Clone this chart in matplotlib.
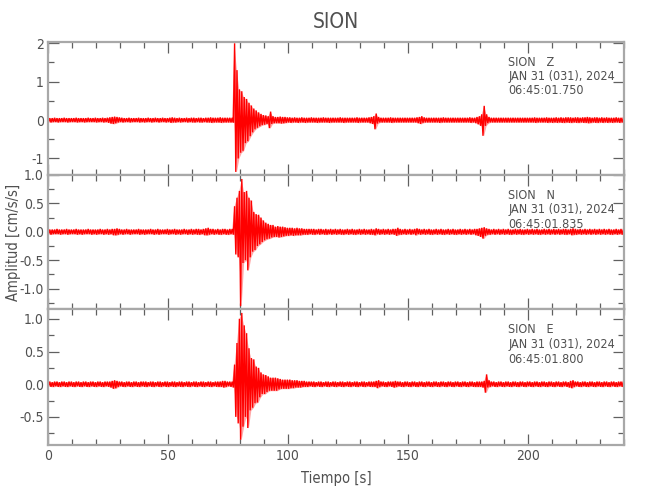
import numpy as np
import matplotlib
matplotlib.use("Agg")
import matplotlib.pyplot as plt
from matplotlib.ticker import MultipleLocator, FormatStrFormatter
from matplotlib import font_manager

# ---------------- data (per-second max / min of each trace) ----------------
seconds = list(range(240))

z_hi = [0.05, 0.05, 0.06, 0.05, 0.05, 0.05, 0.06, 0.05, 0.05, 0.05,
        0.05, 0.06, 0.05, 0.05, 0.05, 0.05, 0.06, 0.05, 0.05, 0.06,
        0.05, 0.05, 0.06, 0.05, 0.06, 0.07, 0.08, 0.09, 0.08, 0.07,
        0.06, 0.05, 0.05, 0.06, 0.05, 0.05, 0.05, 0.06, 0.05, 0.05,
        0.05, 0.06, 0.05, 0.05, 0.06, 0.05, 0.05, 0.06, 0.05, 0.05,
        0.06, 0.07, 0.06, 0.05, 0.06, 0.05, 0.05, 0.06, 0.05, 0.06,
        0.06, 0.05, 0.06, 0.06, 0.05, 0.06, 0.06, 0.07, 0.06, 0.06,
        0.06, 0.07, 0.06, 0.06, 0.06, 0.06, 0.06, 2.00, 1.30, 0.80,
        0.75, 0.60, 0.55, 0.45, 0.38, 0.30, 0.25, 0.20, 0.16, 0.13,
        0.12, 0.10, 0.22, 0.10, 0.08, 0.08, 0.09, 0.08, 0.08, 0.07,
        0.07, 0.06, 0.07, 0.06, 0.06, 0.07, 0.06, 0.06, 0.06, 0.07,
        0.06, 0.06, 0.06, 0.06, 0.07, 0.06, 0.06, 0.06, 0.06, 0.06,
        0.06, 0.07, 0.06, 0.06, 0.06, 0.06, 0.06, 0.06, 0.07, 0.06,
        0.06, 0.06, 0.06, 0.07, 0.08, 0.10, 0.17, 0.08, 0.06, 0.06,
        0.06, 0.06, 0.07, 0.06, 0.06, 0.06, 0.06, 0.06, 0.06, 0.06,
        0.06, 0.06, 0.06, 0.07, 0.08, 0.10, 0.07, 0.06, 0.06, 0.06,
        0.06, 0.06, 0.06, 0.06, 0.07, 0.06, 0.06, 0.06, 0.06, 0.06,
        0.06, 0.06, 0.06, 0.06, 0.06, 0.07, 0.06, 0.06, 0.08, 0.10,
        0.15, 0.37, 0.15, 0.08, 0.06, 0.06, 0.06, 0.06, 0.06, 0.06,
        0.06, 0.06, 0.06, 0.06, 0.06, 0.06, 0.06, 0.06, 0.06, 0.06,
        0.06, 0.06, 0.07, 0.06, 0.06, 0.06, 0.06, 0.07, 0.06, 0.06,
        0.06, 0.07, 0.06, 0.07, 0.06, 0.07, 0.07, 0.07, 0.06, 0.07,
        0.07, 0.06, 0.07, 0.07, 0.08, 0.07, 0.06, 0.07, 0.07, 0.06,
        0.07, 0.06, 0.07, 0.06, 0.06, 0.06, 0.07, 0.06, 0.06, 0.06]

z_lo = [-0.05, -0.06, -0.05, -0.05, -0.06, -0.05, -0.05, -0.05, -0.06, -0.05,
        -0.05, -0.05, -0.06, -0.05, -0.05, -0.06, -0.05, -0.05, -0.05, -0.05,
        -0.06, -0.05, -0.05, -0.06, -0.05, -0.07, -0.09, -0.10, -0.08, -0.06,
        -0.05, -0.06, -0.05, -0.05, -0.06, -0.05, -0.05, -0.05, -0.06, -0.05,
        -0.06, -0.05, -0.05, -0.06, -0.05, -0.05, -0.06, -0.05, -0.05, -0.06,
        -0.05, -0.07, -0.06, -0.06, -0.05, -0.06, -0.05, -0.05, -0.06, -0.05,
        -0.06, -0.06, -0.05, -0.06, -0.06, -0.05, -0.06, -0.06, -0.07, -0.06,
        -0.06, -0.06, -0.07, -0.06, -0.06, -0.06, -0.06, -0.06, -1.35, -1.00,
        -0.85, -0.80, -0.60, -0.55, -0.42, -0.32, -0.24, -0.20, -0.16, -0.13,
        -0.12, -0.10, -0.21, -0.10, -0.08, -0.08, -0.08, -0.09, -0.08, -0.07,
        -0.06, -0.07, -0.06, -0.06, -0.07, -0.06, -0.06, -0.07, -0.06, -0.06,
        -0.06, -0.06, -0.07, -0.06, -0.06, -0.06, -0.06, -0.07, -0.06, -0.06,
        -0.06, -0.06, -0.06, -0.07, -0.06, -0.06, -0.06, -0.06, -0.06, -0.07,
        -0.06, -0.06, -0.06, -0.06, -0.08, -0.10, -0.24, -0.09, -0.06, -0.06,
        -0.06, -0.06, -0.06, -0.07, -0.06, -0.06, -0.06, -0.06, -0.06, -0.06,
        -0.06, -0.06, -0.06, -0.06, -0.08, -0.10, -0.07, -0.06, -0.06, -0.06,
        -0.06, -0.06, -0.06, -0.07, -0.06, -0.06, -0.06, -0.06, -0.06, -0.06,
        -0.06, -0.06, -0.06, -0.06, -0.06, -0.06, -0.07, -0.06, -0.08, -0.11,
        -0.15, -0.41, -0.15, -0.08, -0.06, -0.06, -0.06, -0.06, -0.06, -0.06,
        -0.06, -0.06, -0.06, -0.06, -0.06, -0.06, -0.06, -0.06, -0.06, -0.06,
        -0.06, -0.06, -0.06, -0.07, -0.06, -0.06, -0.06, -0.06, -0.07, -0.06,
        -0.07, -0.06, -0.07, -0.06, -0.07, -0.07, -0.06, -0.07, -0.07, -0.06,
        -0.07, -0.07, -0.06, -0.07, -0.07, -0.08, -0.07, -0.06, -0.07, -0.07,
        -0.06, -0.07, -0.06, -0.07, -0.06, -0.07, -0.06, -0.06, -0.07, -0.06]

n_hi = [0.04, 0.04, 0.04, 0.05, 0.04, 0.04, 0.04, 0.05, 0.04, 0.04,
        0.04, 0.05, 0.04, 0.04, 0.04, 0.04, 0.05, 0.04, 0.04, 0.04,
        0.04, 0.05, 0.04, 0.04, 0.05, 0.04, 0.05, 0.05, 0.06, 0.05,
        0.04, 0.04, 0.05, 0.04, 0.04, 0.04, 0.04, 0.05, 0.04, 0.04,
        0.04, 0.04, 0.05, 0.04, 0.04, 0.05, 0.04, 0.04, 0.04, 0.05,
        0.04, 0.04, 0.05, 0.04, 0.04, 0.04, 0.05, 0.04, 0.04, 0.05,
        0.04, 0.05, 0.05, 0.04, 0.05, 0.06, 0.07, 0.05, 0.05, 0.04,
        0.05, 0.04, 0.05, 0.05, 0.04, 0.05, 0.05, 0.45, 0.60, 0.72,
        0.93, 0.70, 0.72, 0.60, 0.55, 0.35, 0.31, 0.30, 0.25, 0.20,
        0.16, 0.14, 0.12, 0.12, 0.09, 0.10, 0.09, 0.09, 0.08, 0.07,
        0.07, 0.07, 0.06, 0.07, 0.06, 0.06, 0.05, 0.05, 0.05, 0.05,
        0.05, 0.04, 0.05, 0.05, 0.04, 0.05, 0.04, 0.05, 0.04, 0.05,
        0.04, 0.05, 0.04, 0.04, 0.05, 0.04, 0.05, 0.04, 0.04, 0.05,
        0.04, 0.05, 0.04, 0.04, 0.05, 0.04, 0.06, 0.05, 0.04, 0.05,
        0.04, 0.05, 0.04, 0.05, 0.05, 0.07, 0.05, 0.04, 0.05, 0.04,
        0.05, 0.04, 0.05, 0.06, 0.05, 0.04, 0.05, 0.04, 0.05, 0.04,
        0.04, 0.05, 0.04, 0.05, 0.04, 0.04, 0.05, 0.04, 0.05, 0.04,
        0.04, 0.05, 0.04, 0.05, 0.04, 0.05, 0.04, 0.05, 0.05, 0.06,
        0.07, 0.08, 0.06, 0.05, 0.04, 0.05, 0.04, 0.05, 0.04, 0.05,
        0.04, 0.05, 0.04, 0.04, 0.05, 0.04, 0.05, 0.04, 0.04, 0.05,
        0.04, 0.05, 0.04, 0.05, 0.04, 0.04, 0.05, 0.04, 0.05, 0.04,
        0.05, 0.04, 0.05, 0.04, 0.05, 0.05, 0.04, 0.05, 0.06, 0.05,
        0.04, 0.05, 0.04, 0.05, 0.04, 0.05, 0.04, 0.05, 0.04, 0.05,
        0.04, 0.05, 0.04, 0.05, 0.04, 0.04, 0.05, 0.04, 0.05, 0.04]

n_lo = [-0.04, -0.05, -0.04, -0.04, -0.04, -0.05, -0.04, -0.04, -0.05, -0.04,
        -0.04, -0.04, -0.05, -0.04, -0.05, -0.04, -0.04, -0.04, -0.05, -0.04,
        -0.05, -0.04, -0.04, -0.05, -0.04, -0.05, -0.04, -0.06, -0.06, -0.05,
        -0.04, -0.05, -0.04, -0.04, -0.05, -0.04, -0.04, -0.04, -0.05, -0.04,
        -0.05, -0.04, -0.04, -0.04, -0.05, -0.04, -0.05, -0.04, -0.04, -0.04,
        -0.05, -0.04, -0.04, -0.05, -0.04, -0.05, -0.04, -0.04, -0.05, -0.04,
        -0.05, -0.04, -0.05, -0.05, -0.04, -0.06, -0.06, -0.05, -0.04, -0.05,
        -0.04, -0.05, -0.05, -0.04, -0.05, -0.05, -0.04, -0.05, -0.40, -0.45,
        -1.31, -0.55, -0.50, -0.68, -0.45, -0.35, -0.32, -0.25, -0.22, -0.18,
        -0.15, -0.13, -0.12, -0.10, -0.09, -0.09, -0.10, -0.09, -0.08, -0.07,
        -0.07, -0.06, -0.07, -0.06, -0.06, -0.06, -0.05, -0.05, -0.05, -0.04,
        -0.05, -0.05, -0.04, -0.05, -0.04, -0.05, -0.05, -0.04, -0.05, -0.04,
        -0.05, -0.04, -0.05, -0.05, -0.04, -0.05, -0.04, -0.05, -0.05, -0.04,
        -0.05, -0.04, -0.05, -0.04, -0.05, -0.05, -0.06, -0.04, -0.05, -0.04,
        -0.05, -0.04, -0.05, -0.04, -0.05, -0.07, -0.05, -0.05, -0.04, -0.05,
        -0.04, -0.05, -0.04, -0.06, -0.04, -0.05, -0.04, -0.05, -0.04, -0.05,
        -0.05, -0.04, -0.05, -0.04, -0.05, -0.05, -0.04, -0.05, -0.04, -0.05,
        -0.05, -0.04, -0.05, -0.04, -0.05, -0.04, -0.05, -0.04, -0.06, -0.07,
        -0.09, -0.12, -0.07, -0.05, -0.05, -0.04, -0.05, -0.04, -0.05, -0.04,
        -0.05, -0.04, -0.05, -0.05, -0.04, -0.05, -0.04, -0.05, -0.05, -0.04,
        -0.05, -0.04, -0.05, -0.04, -0.05, -0.05, -0.04, -0.05, -0.04, -0.05,
        -0.04, -0.05, -0.04, -0.05, -0.04, -0.05, -0.05, -0.04, -0.06, -0.05,
        -0.05, -0.04, -0.05, -0.04, -0.05, -0.04, -0.05, -0.04, -0.05, -0.04,
        -0.05, -0.04, -0.05, -0.04, -0.05, -0.05, -0.04, -0.05, -0.04, -0.05]

e_hi = [0.04, 0.03, 0.04, 0.04, 0.03, 0.04, 0.04, 0.03, 0.04, 0.04,
        0.03, 0.04, 0.04, 0.03, 0.04, 0.04, 0.03, 0.04, 0.04, 0.03,
        0.04, 0.04, 0.03, 0.04, 0.04, 0.04, 0.05, 0.06, 0.05, 0.04,
        0.04, 0.03, 0.04, 0.04, 0.03, 0.04, 0.04, 0.03, 0.04, 0.04,
        0.04, 0.03, 0.04, 0.04, 0.03, 0.04, 0.04, 0.03, 0.04, 0.04,
        0.03, 0.04, 0.04, 0.03, 0.04, 0.04, 0.03, 0.04, 0.04, 0.03,
        0.04, 0.04, 0.03, 0.04, 0.04, 0.03, 0.04, 0.04, 0.03, 0.04,
        0.04, 0.04, 0.05, 0.05, 0.04, 0.04, 0.04, 0.30, 0.63, 1.00,
        1.09, 0.90, 0.78, 0.55, 0.40, 0.38, 0.27, 0.25, 0.18, 0.15,
        0.14, 0.12, 0.10, 0.10, 0.10, 0.09, 0.08, 0.07, 0.07, 0.07,
        0.07, 0.06, 0.06, 0.06, 0.05, 0.05, 0.05, 0.04, 0.04, 0.04,
        0.04, 0.03, 0.04, 0.04, 0.03, 0.04, 0.04, 0.03, 0.04, 0.04,
        0.03, 0.04, 0.04, 0.03, 0.04, 0.04, 0.03, 0.04, 0.04, 0.03,
        0.04, 0.04, 0.03, 0.04, 0.04, 0.04, 0.05, 0.06, 0.04, 0.04,
        0.03, 0.04, 0.04, 0.04, 0.05, 0.04, 0.04, 0.03, 0.04, 0.04,
        0.03, 0.04, 0.04, 0.03, 0.04, 0.04, 0.03, 0.04, 0.04, 0.03,
        0.04, 0.04, 0.03, 0.04, 0.04, 0.03, 0.04, 0.04, 0.03, 0.04,
        0.04, 0.03, 0.04, 0.04, 0.03, 0.04, 0.04, 0.03, 0.04, 0.04,
        0.04, 0.05, 0.15, 0.06, 0.04, 0.04, 0.03, 0.04, 0.04, 0.03,
        0.04, 0.04, 0.03, 0.04, 0.04, 0.03, 0.04, 0.04, 0.03, 0.04,
        0.04, 0.03, 0.04, 0.04, 0.03, 0.04, 0.04, 0.03, 0.04, 0.04,
        0.03, 0.04, 0.04, 0.03, 0.04, 0.04, 0.03, 0.05, 0.06, 0.04,
        0.04, 0.03, 0.04, 0.04, 0.03, 0.04, 0.04, 0.03, 0.04, 0.04,
        0.03, 0.04, 0.04, 0.03, 0.04, 0.04, 0.03, 0.04, 0.04, 0.04]

e_lo = [-0.03, -0.04, -0.04, -0.03, -0.04, -0.04, -0.03, -0.04, -0.04, -0.03,
        -0.04, -0.04, -0.03, -0.04, -0.04, -0.03, -0.04, -0.04, -0.03, -0.04,
        -0.04, -0.03, -0.04, -0.04, -0.03, -0.04, -0.05, -0.07, -0.06, -0.04,
        -0.03, -0.04, -0.04, -0.03, -0.04, -0.04, -0.03, -0.04, -0.04, -0.03,
        -0.04, -0.04, -0.03, -0.04, -0.04, -0.03, -0.04, -0.04, -0.03, -0.04,
        -0.04, -0.03, -0.04, -0.04, -0.03, -0.04, -0.04, -0.03, -0.04, -0.04,
        -0.03, -0.04, -0.04, -0.03, -0.04, -0.04, -0.03, -0.04, -0.04, -0.03,
        -0.04, -0.04, -0.04, -0.05, -0.04, -0.03, -0.04, -0.05, -0.50, -0.60,
        -0.85, -0.65, -0.50, -0.67, -0.40, -0.36, -0.29, -0.28, -0.20, -0.15,
        -0.15, -0.12, -0.10, -0.10, -0.10, -0.10, -0.08, -0.07, -0.07, -0.07,
        -0.07, -0.06, -0.06, -0.05, -0.05, -0.05, -0.04, -0.04, -0.04, -0.03,
        -0.04, -0.04, -0.03, -0.04, -0.04, -0.03, -0.04, -0.04, -0.03, -0.04,
        -0.04, -0.03, -0.04, -0.04, -0.03, -0.04, -0.04, -0.03, -0.04, -0.04,
        -0.03, -0.04, -0.04, -0.03, -0.04, -0.04, -0.04, -0.06, -0.04, -0.03,
        -0.04, -0.04, -0.03, -0.04, -0.05, -0.04, -0.03, -0.04, -0.04, -0.03,
        -0.04, -0.04, -0.03, -0.04, -0.04, -0.03, -0.04, -0.04, -0.03, -0.04,
        -0.04, -0.03, -0.04, -0.04, -0.03, -0.04, -0.04, -0.03, -0.04, -0.04,
        -0.03, -0.04, -0.04, -0.03, -0.04, -0.04, -0.03, -0.04, -0.04, -0.04,
        -0.04, -0.05, -0.13, -0.05, -0.04, -0.03, -0.04, -0.04, -0.03, -0.04,
        -0.04, -0.03, -0.04, -0.04, -0.03, -0.04, -0.04, -0.03, -0.04, -0.04,
        -0.03, -0.04, -0.04, -0.03, -0.04, -0.04, -0.03, -0.04, -0.04, -0.03,
        -0.04, -0.04, -0.03, -0.04, -0.04, -0.03, -0.04, -0.05, -0.06, -0.04,
        -0.03, -0.04, -0.04, -0.03, -0.04, -0.04, -0.03, -0.04, -0.04, -0.03,
        -0.04, -0.04, -0.03, -0.04, -0.04, -0.03, -0.04, -0.04, -0.03, -0.04]

components = ["Z", "N", "E"]
start_times = ["06:45:01.750", "06:45:01.835", "06:45:01.800"]
date_label = "JAN 31 (031), 2024"
station = "SION"
ylims = [(-1.43, 2.04), (-1.36, 1.0), (-0.93, 1.15)]
ymajor = [1.0, 0.5, 0.5]
yminor = [0.5, 0.25, 0.25]
yfmt = ["%g", "%.1f", "%.1f"]
xmax = 240

# ---------------- style ----------------
avail = {f.name for f in font_manager.fontManager.ttflist}
fam = ["Liberation Sans Narrow"] if "Liberation Sans Narrow" in avail else ["DejaVu Sans"]
plt.rcParams["font.family"] = fam + ["DejaVu Sans"]
if fam[0] == "DejaVu Sans":
    plt.rcParams["font.stretch"] = "condensed"
TXT = "#505050"
SPINE = "#a8a8a8"
TICK = "#606060"

fig = plt.figure(figsize=(6.5, 5.0), dpi=100)
W, H = 650.0, 500.0
left, right = 48 / W, 624 / W
edges_px = [41.7, 175, 309, 445]

traces = [(z_hi, z_lo), (n_hi, n_lo), (e_hi, e_lo)]
axes = []
for k in range(3):
    top = 1 - edges_px[k] / H
    bot = 1 - edges_px[k + 1] / H
    ax = fig.add_axes([left, bot, right - left, top - bot])
    axes.append(ax)
    hi, lo = traces[k]
    # light envelope of the trace (max/min per second)
    ax.fill_between([s + 0.5 for s in seconds], lo, hi, color="#ff0000",
                    alpha=0.35, lw=0)
    xs, ys = [], []
    for s, h, l in zip(seconds, hi, lo):
        xs += [s + 0.25, s + 0.75]
        ys += [l, h]
    ax.plot(xs, ys, color="#ff0000", lw=1.0, solid_joinstyle="miter")
    ax.set_xlim(0, xmax)
    ax.set_ylim(*ylims[k])
    ax.xaxis.set_major_locator(MultipleLocator(50))
    ax.xaxis.set_minor_locator(MultipleLocator(10))
    ax.yaxis.set_major_locator(MultipleLocator(ymajor[k]))
    ax.yaxis.set_minor_locator(MultipleLocator(yminor[k]))
    ax.yaxis.set_major_formatter(FormatStrFormatter(yfmt[k]))
    ax.tick_params(which="both", direction="in", top=True, right=True,
                   color=TICK, labelcolor=TXT, labelsize=10, width=0.9, pad=3)
    ax.tick_params(which="major", length=8)
    ax.tick_params(which="minor", length=4)
    for sp in ax.spines.values():
        sp.set_color(SPINE)
        sp.set_linewidth(1.6)
    if k < 2:
        ax.tick_params(labelbottom=False)
    ax.text(0.799, 1 - 14 / 134.0, f"{station}   {components[k]}", transform=ax.transAxes,
            ha="left", va="top", fontsize=9, color=TXT)
    ax.text(0.799, 1 - 28.5 / 134.0, date_label, transform=ax.transAxes,
            ha="left", va="top", fontsize=9, color=TXT)
    ax.text(0.799, 1 - 43 / 134.0, start_times[k], transform=ax.transAxes,
            ha="left", va="top", fontsize=9, color=TXT)

axes[2].set_xlabel("Tiempo [s]", fontsize=10.5, color=TXT, labelpad=6)
axes[1].set_ylabel("Amplitud [cm/s/s]", fontsize=10.5, color=TXT)
axes[1].yaxis.set_label_coords(-0.047, 0.5)
fig.text(0.516, 1 - 22 / H, station, ha="center", va="center", fontsize=15, color=TXT)

fig.savefig("out.png", dpi=100)
